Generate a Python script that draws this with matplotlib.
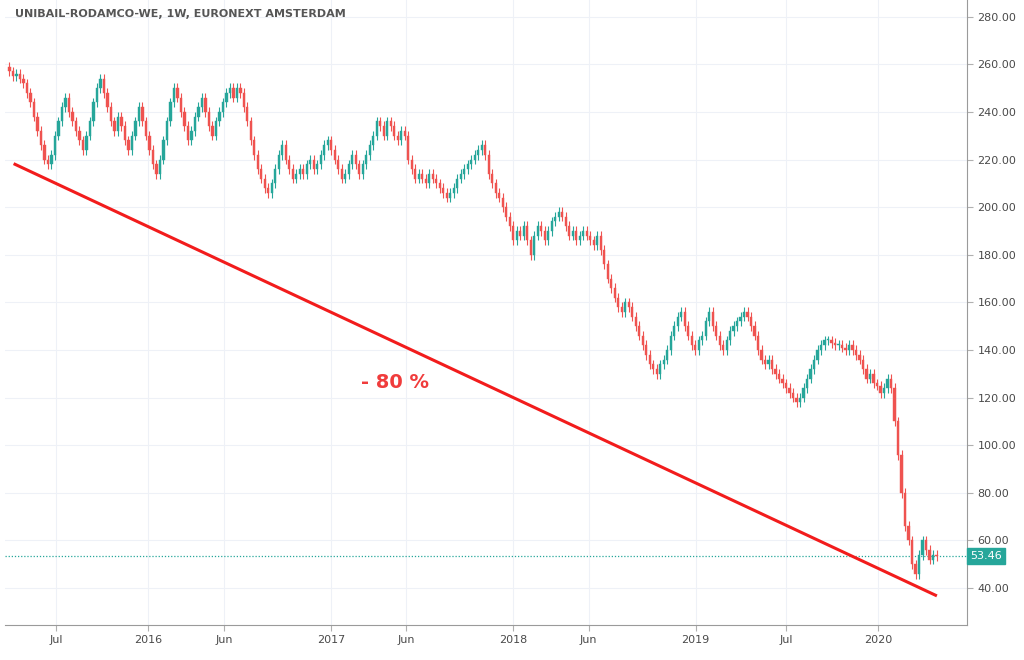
import numpy as np
import pandas as pd
import matplotlib
matplotlib.use("Agg")
import matplotlib.pyplot as plt
import matplotlib.dates as mdates

TITLE = "UNIBAIL-RODAMCO-WE, 1W, EURONEXT AMSTERDAM"
START = "2015-03-30"
LAST_PRICE = 53.46

# weekly closes
closes_2015a = [257, 255, 256, 254, 252, 248, 244, 238, 232, 226, 220, 218, 222, 230, 236]
closes_2015b = [242, 246, 240, 236, 232, 228, 224, 230, 236, 244, 250, 254, 248, 242, 236,
                232, 238, 234, 228, 224, 230, 236, 242, 236, 230]
closes_2016a = [224, 218, 214, 220, 228, 236, 244, 250, 246, 240, 234, 228, 232, 238, 242,
                246, 240, 234, 230, 236, 240]
closes_2016b = [244, 248, 250, 246, 250, 248, 242, 236, 228, 222, 216, 212, 208, 206, 210,
                216, 222, 226, 220, 216, 212, 214, 216, 214, 218, 220, 216, 218, 222, 226]
closes_2017a = [228, 224, 220, 216, 212, 214, 218, 222, 218, 214, 218, 222, 226, 230, 236,
                234, 230, 236, 234, 230, 228, 232, 230]
closes_2017b = [220, 216, 212, 214, 212, 210, 214, 212, 210, 208, 206, 204, 206, 208, 212,
                214, 216, 218, 220, 222, 224, 226, 222, 214, 210, 206, 204, 200, 196, 192]
closes_2018a = [186, 190, 188, 192, 186, 180, 188, 192, 190, 186, 190, 194, 196, 198, 196,
                192, 188, 190, 186, 188, 190]
closes_2018b = [188, 186, 184, 188, 182, 176, 170, 166, 162, 158, 156, 160, 158, 154, 150,
                146, 142, 138, 134, 132, 130, 134, 136, 140, 146, 150, 154, 156, 150, 146,
                142, 140, 144]
closes_2019a = [146, 152, 156, 150, 146, 142, 140, 144, 148, 150, 152, 154, 156, 154, 150,
                146, 140, 136, 134, 136, 132, 130, 128, 126]
closes_2019b = [124, 122, 120, 118, 120, 124, 128, 132, 136, 140, 142, 144, 144, 143, 142,
                142, 141, 140, 142, 140, 138, 136, 132, 128, 130, 126, 125]
closes_2020 = [122, 124, 128, 124, 110, 96, 80, 66, 60, 50, 46, 54, 60, 56, 52, 54, LAST_PRICE]

closes = np.array(closes_2015a + closes_2015b + closes_2016a + closes_2016b + closes_2017a
                  + closes_2017b + closes_2018a + closes_2018b + closes_2019a + closes_2019b
                  + closes_2020, dtype=float)
opens = np.concatenate([[closes[0] + 2], closes[:-1]])
dates = pd.date_range(START, periods=len(closes), freq="7D")

# trend line endpoints and annotation
trend_dates = pd.to_datetime(["2015-04-10", "2020-04-25"])
trend_vals = [218, 37]

UP, DOWN = "#26a69a", "#ef5350"

fig = plt.figure(figsize=(10.24, 6.6), dpi=100)
ax = fig.add_axes([5 / 1024, 35 / 660, 962 / 1024, 625 / 660])
ax.set_facecolor("white")

x = mdates.date2num(dates)
up = closes >= opens
colors = np.where(up, UP, DOWN)
hi = np.maximum(opens, closes) + 2.0
lo = np.minimum(opens, closes) - 2.0
ax.vlines(x, lo, hi, colors=colors, linewidth=0.8, zorder=2)
body = np.abs(closes - opens)
body = np.where(body < 0.6, 0.6, body)
ax.bar(x, body, bottom=np.minimum(opens, closes), width=4.5, color=colors,
       edgecolor=colors, linewidth=0.3, zorder=3)

ax.plot(mdates.date2num(trend_dates), trend_vals, color="#f21c1c", linewidth=2.2, zorder=4)
ax.text(mdates.date2num(pd.Timestamp("2017-05-10")), 126.5, "- 80 %", color="#f03c3c",
        fontsize=14, fontweight="bold", ha="center", va="center", zorder=5)

ax.axhline(LAST_PRICE, color=UP, linestyle=(0, (1, 1.5)), linewidth=0.9, zorder=1)

ax.set_ylim(24.5, 287)
ax.set_xlim(mdates.date2num(pd.Timestamp("2015-03-21")), mdates.date2num(pd.Timestamp("2020-06-27")))

tick_dates = pd.to_datetime(["2015-07-01", "2016-01-01", "2016-06-01", "2017-01-01", "2017-06-01",
                             "2018-01-01", "2018-06-01", "2019-01-01", "2019-07-01", "2020-01-01"])
tick_labels = ["Jul", "2016", "Jun", "2017", "Jun", "2018", "Jun", "2019", "Jul", "2020"]
ax.set_xticks(mdates.date2num(tick_dates))
ax.set_xticklabels(tick_labels)
yticks = np.arange(40, 281, 20)
ax.set_yticks(yticks)
ax.set_yticklabels(["{0:.2f}".format(v) for v in yticks])
ax.yaxis.tick_right()
ax.tick_params(axis="both", labelsize=8, colors="#4a4a4a", length=4, color="#b0b0b0")
ax.grid(True, color="#eef1f7", linewidth=0.8, zorder=0)
ax.set_axisbelow(True)
for side in ["top", "left"]:
    ax.spines[side].set_visible(False)
for side in ["right", "bottom"]:
    ax.spines[side].set_color("#9a9a9a")

ax.text(1.003, LAST_PRICE, "{0:.2f}".format(LAST_PRICE), transform=ax.get_yaxis_transform(),
        color="white", fontsize=8, va="center", ha="left",
        bbox=dict(boxstyle="square,pad=0.3", facecolor=UP, edgecolor=UP), zorder=6)

ax.text(0.01, 0.985, TITLE, transform=ax.transAxes, fontsize=8, color="#555555",
        fontweight="bold", va="top", ha="left")

plt.savefig("out.png", dpi=100)
